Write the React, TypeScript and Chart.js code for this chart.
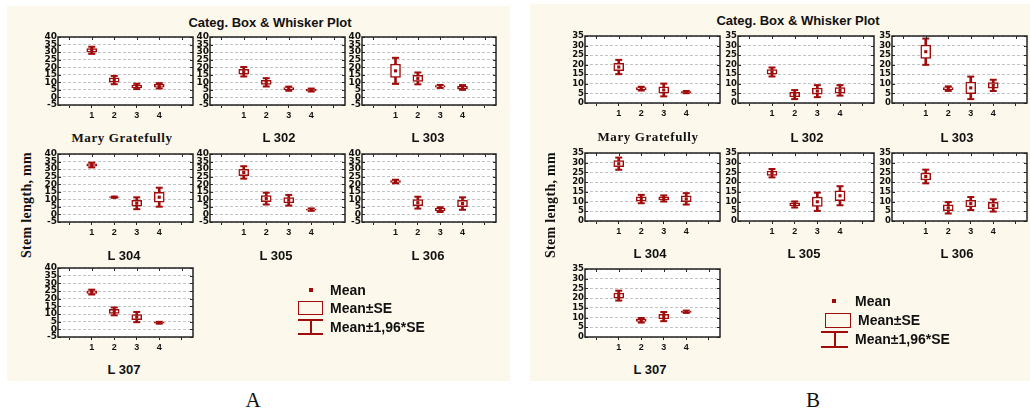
import React, { useEffect, useRef } from 'react';
import { Chart, registerables } from 'chart.js';
Chart.register(...registerables);

const RED = '#a00c0c';
const SANS = '"Liberation Sans", Arial, sans-serif';
const TICKSANS = '"DejaVu Sans", "Liberation Sans", Arial, sans-serif';
const SERIF = '"Liberation Serif", "Times New Roman", serif';
const BG = '#fdf8ec';

// ---------- data ----------
const categories = ['1', '2', '3', '4'];
const plotNames = ['Mary Gratefully', 'L 302', 'L 303', 'L 304', 'L 305', 'L 306', 'L 307'];
const titleText = 'Categ. Box & Whisker Plot';
const yAxisTitle = 'Stem length, mm';
const legendLabels = ['Mean', 'Mean±SE', 'Mean±1,96*SE'];

// Panel A (y from -5 to 40)
const aMaryMean = [31.2, 11.5, 7.3, 7.7];
const aMarySE = [1.2, 1.4, 0.9, 0.9];
const a302Mean = [17.0, 10.0, 5.8, 4.9];
const a302SE = [1.6, 1.4, 0.7, 0.5];
const a303Mean = [17.6, 12.6, 7.3, 6.6];
const a303SE = [4.4, 2.0, 0.5, 0.8];
const a304Mean = [32.7, 11.4, 7.4, 11.4];
const a304SE = [0.8, 0.2, 2.0, 3.2];
const a305Mean = [27.8, 10.5, 9.4, 3.2];
const a305SE = [2.1, 2.0, 1.8, 0.4];
const a306Mean = [21.8, 7.8, 3.2, 7.2];
const a306SE = [0.6, 2.0, 0.8, 2.1];
const a307Mean = [24.3, 11.7, 8.0, 4.3];
const a307SE = [0.8, 1.3, 1.7, 0.3];

// Panel B (y from 0 to 35)
const bMaryMean = [18.8, 7.5, 6.8, 5.7];
const bMarySE = [1.9, 0.5, 1.7, 0.3];
const b302Mean = [16.2, 4.4, 6.2, 6.6];
const b302SE = [1.2, 1.2, 1.6, 1.4];
const b303Mean = [26.8, 7.5, 7.9, 9.2];
const b303SE = [3.5, 0.6, 3.0, 1.5];
const b304Mean = [29.5, 11.3, 11.6, 11.4];
const b304SE = [1.6, 1.1, 0.8, 1.5];
const b305Mean = [24.6, 8.5, 9.9, 13.0];
const b305SE = [1.1, 0.8, 2.4, 2.5];
const b306Mean = [22.9, 6.8, 9.0, 8.0];
const b306SE = [1.8, 1.5, 1.7, 1.6];
const b307Mean = [21.3, 8.6, 10.5, 13.0];
const b307SE = [1.3, 0.6, 1.2, 0.3];

const aMeans = [aMaryMean, a302Mean, a303Mean, a304Mean, a305Mean, a306Mean, a307Mean];
const aSEs = [aMarySE, a302SE, a303SE, a304SE, a305SE, a306SE, a307SE];
const bMeans = [bMaryMean, b302Mean, b303Mean, b304Mean, b305Mean, b306Mean, b307Mean];
const bSEs = [bMarySE, b302SE, b303SE, b304SE, b305SE, b306SE, b307SE];

// ---------- layout (plot areas: x0, y0, x1, y1) ----------
const aCols = [[58, 195], [210, 347], [362, 498]];
const aRows = [[37, 105], [154, 222], [268, 337]];
const bCols = [[585, 722], [738, 876], [892, 1029]];
const bRows = [[36, 103], [153, 221], [269, 337]];
const gridPos = [[0, 0], [1, 0], [2, 0], [0, 1], [1, 1], [2, 1], [0, 2]];

const framePlugin = {
  id: 'frame',
  beforeDraw(chart: any) {
    const { ctx, chartArea } = chart;
    const { left, top, right, bottom } = chartArea;
    ctx.save();
    ctx.fillStyle = '#ffffff';
    ctx.fillRect(left, top, right - left, bottom - top);
    ctx.restore();
  },
  afterDraw(chart: any) {
    const { ctx, chartArea, scales } = chart;
    const { left, top, right, bottom } = chartArea;
    ctx.save();
    ctx.strokeStyle = '#2a2a2a';
    ctx.lineWidth = 1;
    const ys = scales.y;
    ys.ticks.forEach((t: any) => {
      const py = Math.round(ys.getPixelForValue(t.value)) + 0.5;
      ctx.beginPath();
      ctx.moveTo(left, py);
      ctx.lineTo(left + 3, py);
      ctx.moveTo(right - 3, py);
      ctx.lineTo(right, py);
      ctx.stroke();
    });
    const xs = scales.x;
    for (let i = 0; i < xs.ticks.length; i++) {
      const px = Math.round(xs.getPixelForTick(i)) + 0.5;
      ctx.beginPath();
      ctx.moveTo(px, top);
      ctx.lineTo(px, top + 3);
      ctx.stroke();
    }
    ctx.lineWidth = 1.5;
    ctx.strokeStyle = '#222';
    ctx.strokeRect(left, top, right - left, bottom - top);
    ctx.restore();
  },
};

const YW = 15;
const XH = 20;
const PT = 8;
const PR = 4;

function SmallPlot(props: { area: number[]; means: number[]; se: number[]; yMin: number; yMax: number; fs: number }) {
  const { area, means, se, yMin, yMax, fs } = props;
  const ref = useRef<HTMLCanvasElement>(null);
  const w = area[2] - area[0] + YW + PR;
  const h = area[3] - area[1] + PT + XH;
  useEffect(() => {
    const labels = ['', ...categories, ''];
    const pad = (arr: any[]) => [null, ...arr, null];
    const box = pad(means.map((m, i) => [m - se[i], m + se[i]]));
    const whisk = pad(means.map((m, i) => [m - 1.96 * se[i], m + 1.96 * se[i]]));
    const hi = pad(means.map((m, i) => m + 1.96 * se[i]));
    const lo = pad(means.map((m, i) => m - 1.96 * se[i]));
    const capDs = (data: any[]) => ({
      type: 'line',
      data,
      showLine: false,
      pointStyle: 'line',
      pointRadius: 3.5,
      pointBorderColor: RED,
      pointBorderWidth: 2,
      order: 1,
    });
    const chart = new Chart(ref.current as HTMLCanvasElement, {
      type: 'bar',
      data: {
        labels,
        datasets: [
          { type: 'bar', data: whisk as any, backgroundColor: RED, borderWidth: 0, barThickness: 2, grouped: false, order: 4 } as any,
          { type: 'bar', data: box as any, backgroundColor: '#ffffff', borderColor: RED, borderWidth: 1.5, borderSkipped: false, barThickness: 10, grouped: false, order: 3 } as any,
          capDs(hi) as any,
          capDs(lo) as any,
          {
            type: 'line', data: pad(means), showLine: false, pointStyle: 'rect', pointRadius: 2.2,
            pointBackgroundColor: RED, pointBorderColor: RED, pointBorderWidth: 0, order: 0,
          } as any,
        ],
      },
      options: {
        animation: false,
        responsive: false,
        devicePixelRatio: 1,
        events: [],
        layout: { padding: { top: PT, right: PR, left: 0, bottom: 0 } },
        plugins: { legend: { display: false }, tooltip: { enabled: false } },
        scales: {
          x: {
            type: 'category',
            offset: true,
            grid: { offset: false, drawOnChartArea: false, drawTicks: true, tickLength: 3, tickColor: '#222', tickWidth: 1 },
            border: { display: false },
            ticks: { font: { family: SANS, size: 9, weight: 'bold' }, color: '#111', padding: 2, autoSkip: false, maxRotation: 0 },
            afterFit: (s: any) => { s.height = XH; },
          },
          y: {
            min: yMin,
            max: yMax,
            ticks: { stepSize: 5, autoSkip: false, font: { family: TICKSANS, size: fs, weight: 'bold', lineHeight: 1 }, color: '#111', padding: 1 },
            grid: { color: '#c4c4c4', drawTicks: false, lineWidth: 1 },
            border: { display: false, dash: [3, 2] },
            afterFit: (s: any) => { s.width = YW; },
          },
        },
      } as any,
      plugins: [framePlugin],
    } as any);
    return () => chart.destroy();
  }, []);
  return (
    <canvas
      ref={ref}
      width={w}
      height={h}
      style={{ position: 'absolute', left: area[0] - YW, top: area[1] - PT, width: w, height: h }}
    />
  );
}

function Text(props: { x: number; y: number; text: string; size: number; serif?: boolean; bold?: boolean; align?: 'center' | 'left'; rotate?: boolean; spacing?: number }) {
  const { x, y, text, size, serif, bold = true, align = 'center', rotate, spacing } = props;
  const tx = align === 'center' ? '-50%' : '0';
  return (
    <div
      style={{
        position: 'absolute',
        left: x,
        top: y,
        transform: `translate(${tx}, -50%)${rotate ? ' rotate(-90deg)' : ''}`,
        transformOrigin: align === 'center' ? 'center center' : 'left center',
        fontFamily: serif ? SERIF : SANS,
        fontWeight: bold ? 'bold' : 'normal',
        fontSize: size,
        lineHeight: `${size + 2}px`,
        whiteSpace: 'nowrap',
        color: '#111',
        letterSpacing: spacing ? `${spacing}px` : undefined,
      }}
    >
      {text}
    </div>
  );
}

type PanelCfg = {
  bg: number[];
  cols: number[][];
  rows: number[][];
  means: number[][];
  ses: number[][];
  yMin: number;
  yMax: number;
  fs: number;
  title: number[];
  names: number[][];
  yLabel: number[];
  letter: string;
  letterPos: number[];
  legend: { mean: number[]; box: number[]; whisk: number[]; text: number[][] };
};

const panels: PanelCfg[] = [
  {
    bg: [7, 6, 510, 381],
    cols: aCols,
    rows: aRows,
    means: aMeans,
    ses: aSEs,
    yMin: -5,
    yMax: 40,
    fs: 9,
    title: [270, 22],
    names: [[122, 137], [279, 137], [428, 137], [124, 255], [276, 255], [428, 255], [124, 369]],
    yLabel: [27, 205],
    letter: 'A',
    letterPos: [253, 400],
    legend: {
      mean: [311, 290],
      box: [298, 301, 25, 14],
      whisk: [298, 319, 25, 14],
      text: [[330, 290], [330, 308], [330, 327]],
    },
  },
  {
    bg: [530, 4, 1030, 381],
    cols: bCols,
    rows: bRows,
    means: bMeans,
    ses: bSEs,
    yMin: 0,
    yMax: 35,
    fs: 8.5,
    title: [798, 20],
    names: [[648, 136], [807, 137], [957, 137], [650, 253], [804, 253], [957, 253], [650, 369]],
    yLabel: [551, 205],
    letter: 'B',
    letterPos: [813, 400],
    legend: {
      mean: [834, 301],
      box: [825, 313, 26, 15],
      whisk: [821, 331, 27, 15],
      text: [[855, 301], [858, 320], [855, 339]],
    },
  },
];

function Panel({ p }: { p: PanelCfg }) {
  const lg = p.legend;
  return (
    <>
      <div style={{ position: 'absolute', left: p.bg[0], top: p.bg[1], width: p.bg[2] - p.bg[0], height: p.bg[3] - p.bg[1], background: BG }} />
      <Text x={p.title[0]} y={p.title[1]} text={titleText} size={13} />
      <Text x={p.yLabel[0]} y={p.yLabel[1]} text={yAxisTitle} size={14} serif rotate spacing={0.3} />
      {gridPos.map(([c, r], i) => (
        <SmallPlot
          key={i}
          area={[p.cols[c][0], p.rows[r][0], p.cols[c][1], p.rows[r][1]]}
          means={p.means[i]}
          se={p.ses[i]}
          yMin={p.yMin}
          yMax={p.yMax}
          fs={p.fs}
        />
      ))}
      {plotNames.map((n, i) => (
        <Text key={n} x={p.names[i][0]} y={p.names[i][1]} text={n} size={13} serif={i === 0} spacing={i === 0 ? 0.6 : 0} />
      ))}
      {/* legend */}
      <div style={{ position: 'absolute', left: lg.mean[0] - 2, top: lg.mean[1] - 2, width: 4, height: 4, background: RED }} />
      <div style={{ position: 'absolute', left: lg.box[0], top: lg.box[1], width: lg.box[2], height: lg.box[3], border: `1.5px solid ${RED}`, boxSizing: 'border-box' }} />
      <div style={{ position: 'absolute', left: lg.whisk[0], top: lg.whisk[1], width: lg.whisk[2], height: 2, background: RED }} />
      <div style={{ position: 'absolute', left: lg.whisk[0], top: lg.whisk[1] + lg.whisk[3], width: lg.whisk[2], height: 2, background: RED }} />
      <div style={{ position: 'absolute', left: lg.whisk[0] + lg.whisk[2] / 2 - 1, top: lg.whisk[1], width: 2, height: lg.whisk[3], background: RED }} />
      {legendLabels.map((t, i) => (
        <Text key={t} x={lg.text[i][0]} y={lg.text[i][1]} text={t} size={14} align="left" />
      ))}
      <Text x={p.letterPos[0]} y={p.letterPos[1]} text={p.letter} size={21} serif bold={false} />
    </>
  );
}

export default function App() {
  return (
    <div style={{ position: 'absolute', left: 0, top: 0, width: 1030, height: 411, overflow: 'hidden', background: '#ffffff' }}>
      {panels.map((p) => (
        <Panel key={p.letter} p={p} />
      ))}
    </div>
  );
}
